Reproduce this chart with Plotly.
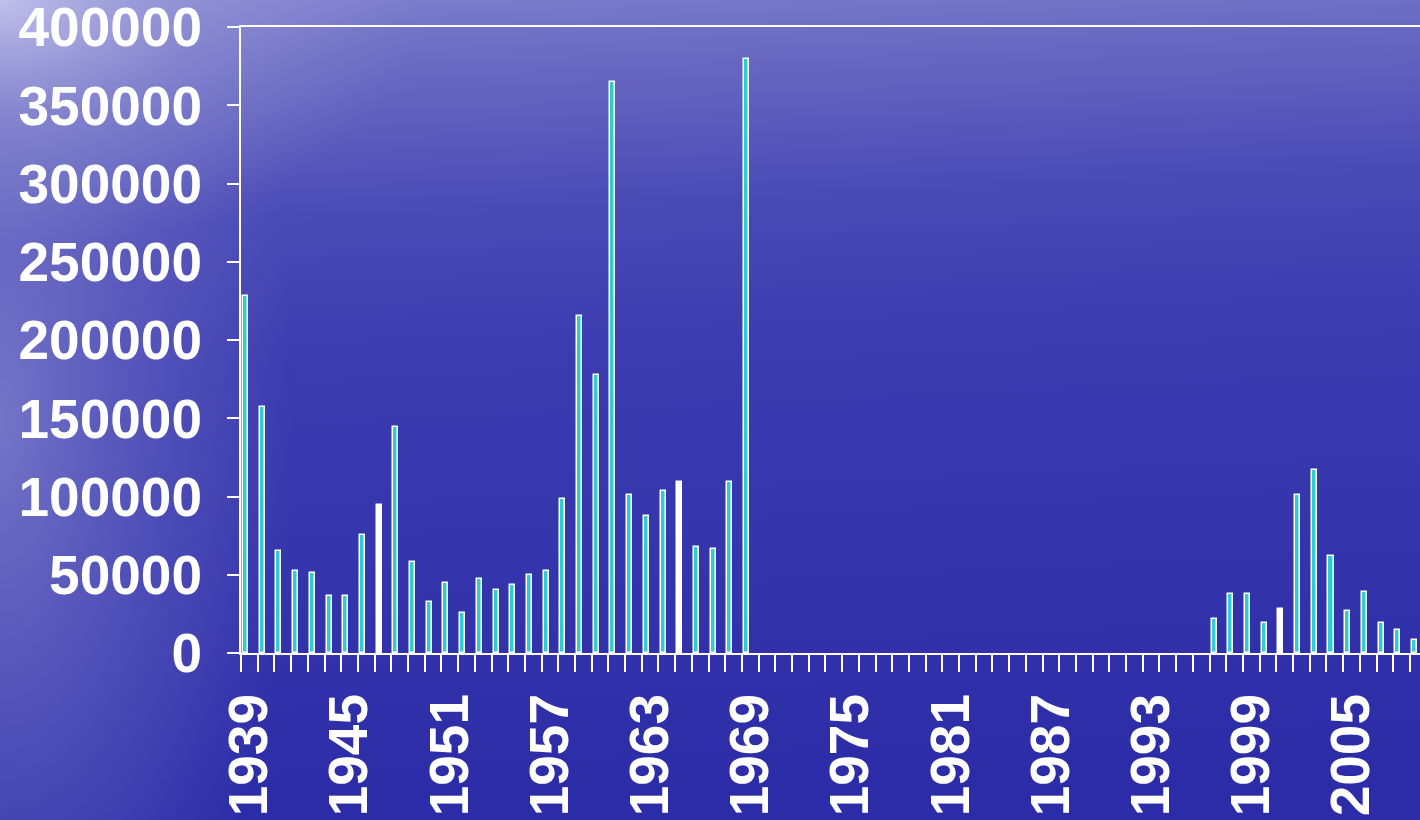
import base64
import plotly.graph_objects as go

# ---- data ----
years = list(range(1939, 2010))
values_1939_1969 = [228000, 157000, 65000, 52600, 51300, 36400, 36400, 75600, 94400, 144200,
                    58200, 32600, 44500, 25800, 47300, 40500, 43200, 50000, 52600, 98400,
                    215500, 177600, 364900, 101000, 87500, 103700, 109300, 67500, 66300, 109300,
                    379600]
values_1970_1996 = [None] * 27
values_1997_2009 = [21500, 37700, 37700, 19000, 28300, 101000, 117100, 62000, 27000, 39000,
                    19000, 14700, 8300]
values = values_1939_1969 + values_1970_1996 + values_1997_2009
label_years = list(range(1939, 2010, 6))
white_bar_years = [1947, 1965, 2001]
y_ticks = list(range(0, 400001, 50000))

categories = [str(y) for y in years]
tick_text = [str(y) if y in label_years else "" for y in years]
bar_colors = ["#ffffff" if y in white_bar_years else "#33cccc" for y in years]

W, H = 1420, 820
ML, MR, MT, MB = 241, 0, 27, 167

svg = f'''<svg xmlns="http://www.w3.org/2000/svg" width="{W}" height="{H}" viewBox="0 0 {W} {H}" preserveAspectRatio="none">
<defs>
<linearGradient id="g" x1="0" y1="0" x2="0.08" y2="1">
<stop offset="0" stop-color="#8282d0"/>
<stop offset="0.08" stop-color="#6e6ec4"/>
<stop offset="0.28" stop-color="#4a4ab6"/>
<stop offset="0.45" stop-color="#3c3cb0"/>
<stop offset="1" stop-color="#2c2ca8"/>
</linearGradient>
<radialGradient id="r1" gradientUnits="userSpaceOnUse" cx="0" cy="0" r="420"
  gradientTransform="translate(0 0) scale(1 0.6)">
<stop offset="0" stop-color="#c8c8ee" stop-opacity="0.9"/>
<stop offset="0.5" stop-color="#a8a8de" stop-opacity="0.35"/>
<stop offset="1" stop-color="#a0a0da" stop-opacity="0"/>
</radialGradient>
<radialGradient id="r2" gradientUnits="userSpaceOnUse" cx="0" cy="0" r="700"
  gradientTransform="translate(0 420) scale(0.42 1)">
<stop offset="0" stop-color="#8888d0" stop-opacity="0.75"/>
<stop offset="0.6" stop-color="#7070c6" stop-opacity="0.35"/>
<stop offset="1" stop-color="#7070c6" stop-opacity="0"/>
</radialGradient>
</defs>
<rect width="{W}" height="{H}" fill="url(#g)"/>
<rect width="{W}" height="{H}" fill="url(#r2)"/>
<rect width="{W}" height="{H}" fill="url(#r1)"/>
</svg>'''
bg_uri = "data:image/svg+xml;base64," + base64.b64encode(svg.encode()).decode()

pw = W - ML - MR
ph = H - MT - MB

fig = go.Figure()
fig.add_trace(go.Bar(
    x=categories, y=values,
    marker=dict(color=bar_colors, line=dict(color="#ffffff", width=1.5)),
    width=0.3, offset=-0.38,
    hoverinfo="x+y",
))

font = dict(family="Liberation Sans, Arial, sans-serif", size=55, color="#ffffff", weight="bold")

fig.update_layout(
    width=W, height=H,
    margin=dict(l=ML, r=MR, t=MT, b=MB, pad=0, autoexpand=False),
    paper_bgcolor="rgba(0,0,0,0)",
    plot_bgcolor="rgba(0,0,0,0)",
    showlegend=False,
    bargap=0,
    images=[dict(
        source=bg_uri, xref="paper", yref="paper",
        x=-ML / pw, y=1 + MT / ph, sizex=W / pw, sizey=H / ph,
        xanchor="left", yanchor="top", sizing="stretch", layer="below",
    )],
    xaxis=dict(
        type="category",
        range=[-0.5, 70.1],
        automargin=False,
        tickmode="array", tickvals=categories, ticktext=tick_text,
        tickson="boundaries",
        ticks="outside", ticklen=17, tickwidth=2, tickcolor="#ffffff",
        tickangle=-90,
        tickfont=font,
        ticklabelstandoff=17,
        ticklabeloverflow="allow",
        showline=True, linecolor="#ffffff", linewidth=2, mirror=True,
        showgrid=False, zeroline=False,
    ),
    yaxis=dict(
        range=[0, 400000],
        automargin=False,
        tickmode="array", tickvals=y_ticks, ticktext=[str(v) for v in y_ticks],
        ticks="outside", ticklen=12, tickwidth=2, tickcolor="#ffffff",
        tickfont=font,
        ticklabelstandoff=14,
        ticklabeloverflow="allow",
        showline=True, linecolor="#ffffff", linewidth=2,
        showgrid=False, zeroline=False,
    ),
)

fig.write_html("out.html", config={"displayModeBar": False},
               post_script="document.body.style.margin='0';document.body.style.overflow='hidden';")
